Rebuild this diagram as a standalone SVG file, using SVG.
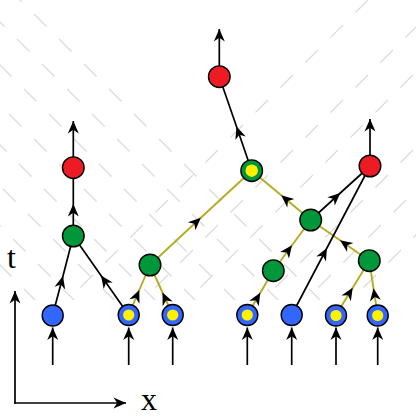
<svg xmlns="http://www.w3.org/2000/svg" width="416" height="419" viewBox="0 0 416 419">
<style>
.bg{fill:none;stroke:#dfdddb;stroke-width:1.4;stroke-dasharray:17.68 17.68}
.blk{fill:none;stroke:#000;stroke-width:1.7}
.olv{fill:none;stroke:#b4ac22;stroke-width:1.9}
.mid{marker-mid:url(#ah)}
.end{marker-end:url(#ah)}
.n{stroke:#000;stroke-width:1.4}
.red{fill:#ed1c24}
.grn{fill:#00963a}
.blu{fill:#3366ff}
.yel{fill:#fff200;stroke:none}
.lbl{font-family:"Liberation Serif","DejaVu Serif",serif;font-size:32px;fill:#000}
</style>
<defs>
<marker id="ah" markerUnits="userSpaceOnUse" markerWidth="15" markerHeight="13" viewBox="0 0 15 13" refX="13" refY="6.5" orient="auto">
<path d="M13,6.5 L0.5,1 L4.2,6.5 L0.5,12 Z" fill="#000"/>
</marker>
<clipPath id="bgclip"><rect x="0" y="0" width="416" height="300"/></clipPath>
</defs>
<g id="background" clip-path="url(#bgclip)">
<path class="bg" d="M9,-11 L329,309"/>
<path class="bg" d="M-33,-11 L287,309"/>
<path class="bg" d="M-76,-11 L244,309"/>
<path class="bg" d="M-116,-11 L204,309"/>
<path class="bg" d="M-156,-11 L164,309"/>
<path class="bg" d="M-197,-11 L123,309"/>
<path class="bg" d="M-237,-11 L83,309"/>
<path class="bg" d="M-276,-11 L44,309"/>
<path class="bg" d="M-316,-11 L4,309"/>
<path class="bg" d="M368,0 L58,310"/>
<path class="bg" d="M443,0 L133,310"/>
<path class="bg" d="M488,0 L178,310"/>
<path class="bg" d="M563,0 L253,310"/>
<path class="bg" d="M606,0 L296,310"/>
<path class="bg" d="M651,0 L341,310"/>
</g>
<g id="connectors">
<path class="olv mid" d="M128.7,315 L139.3,290 L150,265"/>
<path class="olv mid" d="M172.7,315 L162.5,292.5 L150,265"/>
<path class="olv mid" d="M150,265 L200.8,217.8 L251.7,170.7"/>
<path class="olv mid" d="M310.7,220 L281.2,195.3 L251.7,170.7"/>
<path class="olv mid" d="M247.3,315 L260.3,292.8 L273.3,270.7"/>
<path class="olv mid" d="M273.3,270.7 L292,245.3 L310.7,220"/>
<path class="olv mid" d="M336,315 L352.7,287.8 L369.3,260.7"/>
<path class="olv mid" d="M377.7,315 L373.5,288.3 L369.3,260.7"/>
<path class="olv mid" d="M369.3,260.7 L340,240.3 L310.7,220"/>
<path class="blk mid" d="M52.7,315 L63,276 L73.3,236"/>
<path class="blk mid" d="M128.7,315 L101,275.5 L73.3,236"/>
<path class="blk mid" d="M73.3,236 L73.3,204 L73.3,167.7"/>
<path class="blk mid" d="M251.7,170.7 L236.5,126.5 L219.3,76.7"/>
<path class="blk mid" d="M310.7,220 L340.3,193 L370,166"/>
<path class="blk mid" d="M291.7,315 L326.9,248 L370,166"/>
<path class="blk end" d="M73.3,157 L73.3,121"/>
<path class="blk end" d="M219.3,66 L219.3,29"/>
<path class="blk end" d="M370,155 L370,119"/>
<path class="blk end" d="M52.7,365 L52.7,327.5"/>
<path class="blk end" d="M128.7,365 L128.7,327.5"/>
<path class="blk end" d="M172.7,365 L172.7,327.5"/>
<path class="blk end" d="M247.3,365 L247.3,327.5"/>
<path class="blk end" d="M291.7,365 L291.7,327.5"/>
<path class="blk end" d="M336,365 L336,327.5"/>
<path class="blk end" d="M377.7,365 L377.7,327.5"/>
</g>
<g id="axes">
<path class="blk end" d="M15,403.8 L15,291"/>
<path class="blk end" d="M14.2,403 L126,403"/>
<text class="lbl" x="7" y="268">t</text>
<text class="lbl" x="141" y="410">x</text>
</g>
<g id="R1"><circle class="n red" cx="73.3" cy="167.7" r="10.8"/></g>
<g id="R2"><circle class="n red" cx="219.3" cy="76.7" r="10.8"/></g>
<g id="R3"><circle class="n red" cx="370" cy="166" r="10.8"/></g>
<g id="G1"><circle class="n grn" cx="73.3" cy="236" r="10.8"/></g>
<g id="G2"><circle class="n grn" cx="150" cy="265" r="10.8"/></g>
<g id="G3"><circle class="n grn" cx="273.3" cy="270.7" r="10.8"/></g>
<g id="G4"><circle class="n grn" cx="310.7" cy="220" r="10.8"/></g>
<g id="G5"><circle class="n grn" cx="369.3" cy="260.7" r="10.8"/></g>
<g id="G6"><circle class="n grn" cx="251.7" cy="170.7" r="10.8"/><circle class="yel" cx="251.7" cy="170.7" r="6.2"/></g>
<g id="B1"><circle class="n blu" cx="52.7" cy="315.5" r="10.5"/></g>
<g id="B2"><circle class="n blu" cx="128.7" cy="315" r="10.5"/><circle class="yel" cx="128.7" cy="315" r="5.6"/></g>
<g id="B3"><circle class="n blu" cx="172.7" cy="315" r="10.5"/><circle class="yel" cx="172.7" cy="315" r="5.6"/></g>
<g id="B4"><circle class="n blu" cx="247.3" cy="315" r="10.5"/><circle class="yel" cx="247.3" cy="315" r="5.6"/></g>
<g id="B5"><circle class="n blu" cx="291.7" cy="315" r="10.5"/></g>
<g id="B6"><circle class="n blu" cx="336" cy="315.5" r="10.5"/><circle class="yel" cx="336" cy="315.5" r="5.6"/></g>
<g id="B7"><circle class="n blu" cx="377.7" cy="315.5" r="10.5"/><circle class="yel" cx="377.7" cy="315.5" r="5.6"/></g>
</svg>
